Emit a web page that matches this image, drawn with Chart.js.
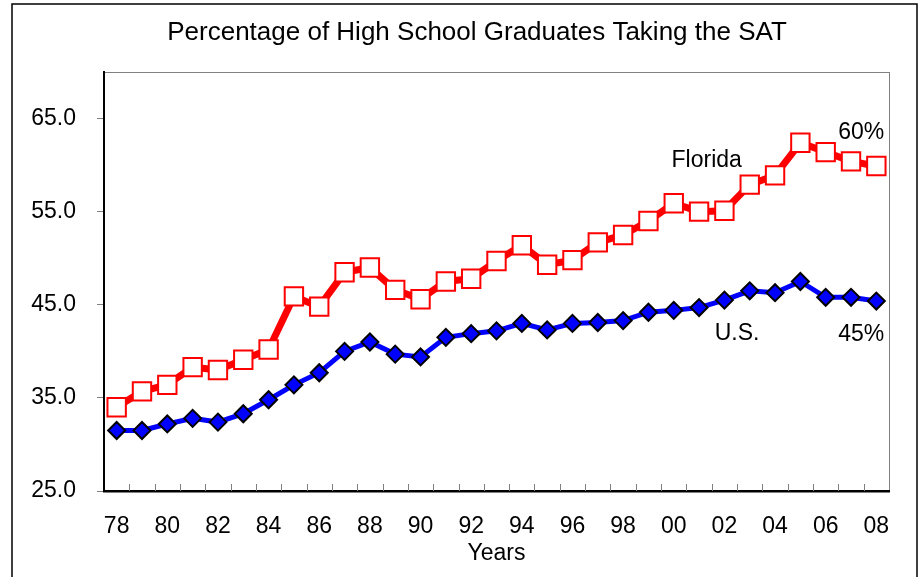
<!DOCTYPE html>
<html>
<head>
<meta charset="utf-8">
<script src="https://cdn.jsdelivr.net/npm/chart.js@4/dist/chart.umd.min.js"></script>
<style>
  html, body { margin: 0; padding: 0; background: #fff; }
  #wrap { width: 923px; height: 577px; }
</style>
</head>
<body>
<div id="wrap"><canvas id="chart" width="923" height="577"></canvas></div>
<script>
// data
const years = ["78","79","80","81","82","83","84","85","86","87","88","89","90","91","92","93",
  "94","95","96","97","98","99","00","01","02","03","04","05","06","07","08"];
const florida = [34.0, 35.7, 36.4, 38.3, 38.0, 39.1, 40.2, 45.9, 44.8, 48.5, 49.0, 46.6, 45.6, 47.5, 47.8, 49.7,
  51.4, 49.3, 49.8, 51.7, 52.5, 54.0, 55.9, 55.0, 55.1, 57.9, 58.9, 62.4, 61.4, 60.4, 59.9];
const us = [31.5, 31.5, 32.2, 32.8, 32.4, 33.3, 34.8, 36.4, 37.7, 40.0, 41.0, 39.7, 39.4, 41.5, 41.9, 42.2,
  43.0, 42.3, 43.0, 43.1, 43.3, 44.2, 44.4, 44.7, 45.5, 46.5, 46.3, 47.5, 45.8, 45.8, 45.4];
const yTicks = [25, 35, 45, 55, 65];
const chartTitle = "Percentage of High School Graduates Taking the SAT";

// text labels placed in data coordinates (category index, value)
const notes = [
  { text: "Florida", x: 23.3, y: 60.5 },
  { text: "60%", x: 29.4, y: 63.5 },
  { text: "U.S.", x: 24.5, y: 41.9 },
  { text: "45%", x: 29.4, y: 41.8 }
];

const FONT = "'Liberation Sans', Arial, sans-serif";

// outer frame, title and plot box
const framePlugin = {
  id: "frame",
  beforeDraw(chart) {
    const ctx = chart.ctx;
    const a = chart.chartArea;
    ctx.save();
    ctx.strokeStyle = "#000";
    ctx.lineWidth = 1.5;
    ctx.strokeRect(12, 4, 905, 600);
    ctx.strokeStyle = "#808080";
    ctx.lineWidth = 1;
    ctx.strokeRect(a.left + 0.5, a.top + 0.5, a.right - a.left, a.bottom - a.top);
    // title, centred on the frame
    ctx.fillStyle = "#000";
    ctx.font = "26px " + FONT;
    ctx.textAlign = "center";
    ctx.textBaseline = "middle";
    ctx.fillText(chartTitle, 477, 33);
    ctx.restore();
  },
  afterDraw(chart) {
    // small inward tick marks between the year categories
    const ctx = chart.ctx;
    const x = chart.scales.x;
    const bottom = chart.chartArea.bottom;
    ctx.save();
    ctx.strokeStyle = "#808080";
    ctx.lineWidth = 1;
    for (let i = 1; i < years.length; i++) {
      const px = Math.round((x.getPixelForValue(i - 1) + x.getPixelForValue(i)) / 2) + 0.5;
      ctx.beginPath();
      ctx.moveTo(px, bottom);
      ctx.lineTo(px, bottom - 7);
      ctx.stroke();
    }
    // notes
    ctx.fillStyle = "#000";
    ctx.font = "23px " + FONT;
    ctx.textAlign = "center";
    ctx.textBaseline = "middle";
    notes.forEach((n) => {
      ctx.fillText(n.text, x.getPixelForValue(n.x), chart.scales.y.getPixelForValue(n.y));
    });
    ctx.restore();
  }
};

new Chart(document.getElementById("chart"), {
  type: "line",
  data: {
    labels: years,
    datasets: [
      {
        label: "Florida",
        data: florida,
        borderColor: "#ff0000",
        borderWidth: 7,
        pointStyle: "rect",
        pointRadius: 13,
        pointBorderWidth: 2,
        pointBorderColor: "#ff0000",
        pointBackgroundColor: "#ffffff",
        tension: 0
      },
      {
        label: "U.S.",
        data: us,
        borderColor: "#0000ff",
        borderWidth: 5,
        pointStyle: "rectRot",
        pointRadius: 8.5,
        pointBorderWidth: 2,
        pointBorderColor: "#000000",
        pointBackgroundColor: "#0000ff",
        tension: 0
      }
    ]
  },
  options: {
    responsive: false,
    animation: false,
    layout: { padding: { left: 0, right: 34, top: 72, bottom: 0 } },
    plugins: {
      legend: { display: false },
      tooltip: { enabled: false },
      title: { display: false }
    },
    scales: {
      x: {
        offset: true,
        grid: { display: false, offset: true },
        border: { display: true, color: "#000", width: 2.5 },
        ticks: {
          autoSkip: false,
          maxRotation: 0,
          padding: 14,
          color: "#000",
          font: { family: FONT, size: 23 },
          callback: (v, i) => (i % 2 === 0 ? years[i] : "")
        },
        title: {
          display: true,
          text: "Years",
          color: "#000",
          font: { family: FONT, size: 23 },
          padding: { top: 0, bottom: 10 }
        },
        afterFit: (s) => { s.height = 86; }
      },
      y: {
        min: 25,
        max: 70,
        afterBuildTicks: (s) => { s.ticks = yTicks.map((v) => ({ value: v })); },
        grid: { drawOnChartArea: false, drawTicks: true, tickLength: 7, color: "#808080" },
        border: { display: true, color: "#000", width: 2 },
        ticks: {
          padding: 21,
          color: "#000",
          font: { family: FONT, size: 23 },
          callback: (v) => Number(v).toFixed(1)
        },
        afterFit: (s) => { s.width = 104; }
      }
    }
  },
  plugins: [framePlugin]
});
</script>
</body>
</html>
